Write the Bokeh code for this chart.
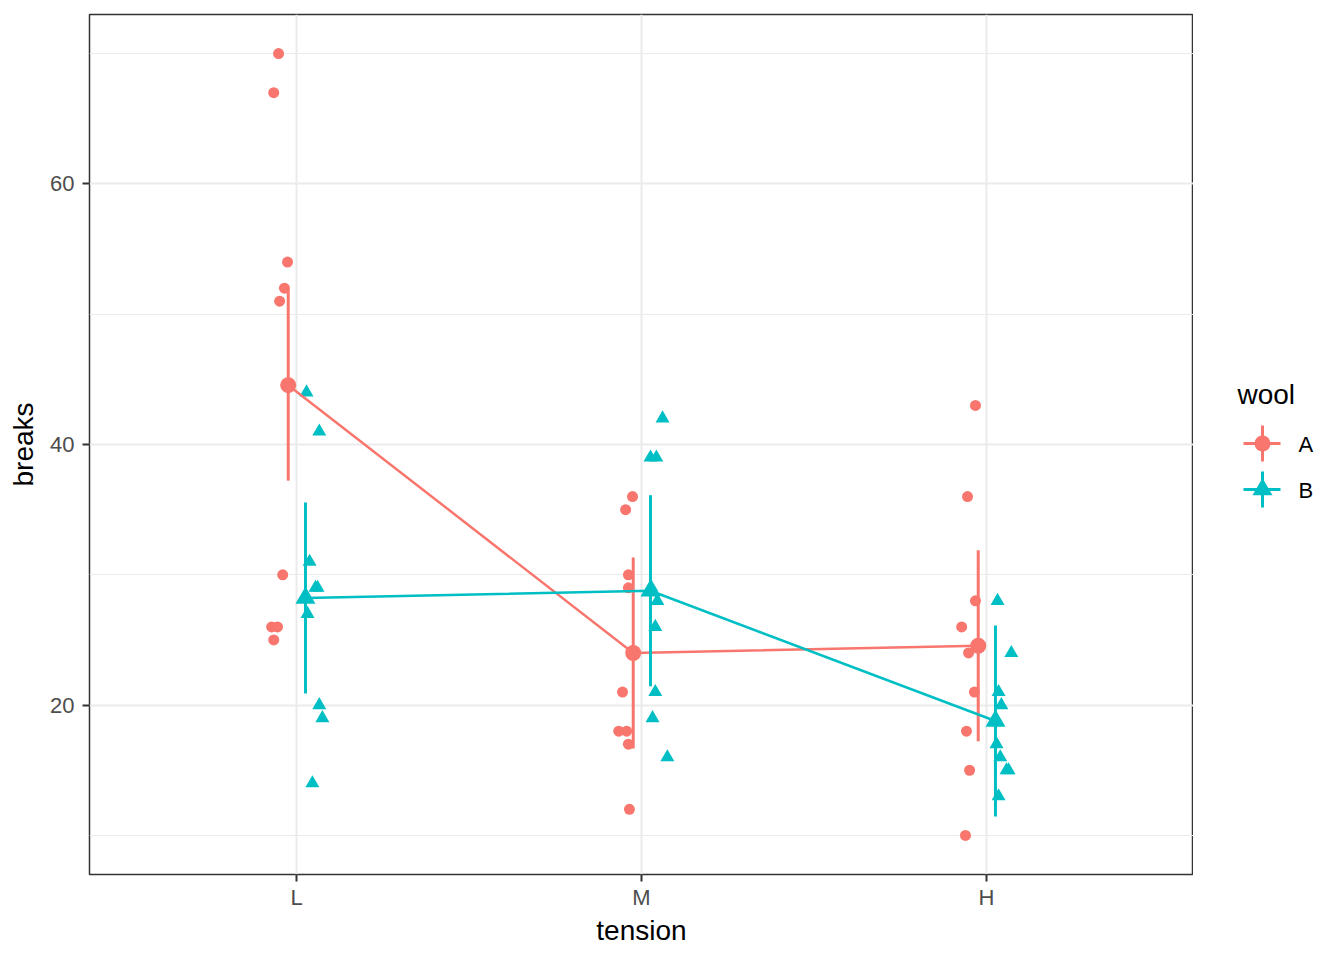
import numpy as np
from bokeh.plotting import figure
from bokeh.models import Range1d, FixedTicker
from bokeh.layouts import row
from bokeh.core.properties import value
from bokeh.embed import file_html
from bokeh.resources import INLINE

# ---------------- data (warpbreaks) ----------------
tension_levels = ["L", "M", "H"]
tension_pos = [1, 2, 3]
wools = ["A", "B"]

breaks_A = {
    "L": [26, 30, 54, 25, 70, 52, 51, 26, 67],
    "M": [18, 21, 29, 17, 12, 18, 35, 30, 36],
    "H": [36, 21, 24, 18, 10, 43, 28, 15, 26],
}
breaks_B = {
    "L": [27, 14, 29, 19, 29, 31, 41, 20, 44],
    "M": [42, 26, 19, 16, 39, 28, 21, 39, 29],
    "H": [20, 21, 24, 17, 13, 15, 15, 16, 28],
}
jitter_A = {
    "L": [-0.072, -0.040, -0.026, -0.066, -0.052, -0.035, -0.049, -0.055, -0.066],
    "M": [-0.066, -0.055, -0.038, -0.038, -0.035, -0.043, -0.046, -0.038, -0.026],
    "H": [-0.055, -0.035, -0.052, -0.058, -0.061, -0.032, -0.032, -0.049, -0.072],
}
jitter_B = {
    "L": [0.032, 0.046, 0.055, 0.075, 0.061, 0.038, 0.066, 0.066, 0.029],
    "M": [0.061, 0.040, 0.032, 0.075, 0.026, 0.046, 0.040, 0.043, 0.029],
    "H": [0.043, 0.035, 0.072, 0.029, 0.035, 0.064, 0.058, 0.040, 0.032],
}
dodge = {"A": -0.024, "B": 0.026}
t_crit = 2.0106  # t(0.975, df=48)

colors = {"A": "#F8766D", "B": "#00BFC4"}
markers = {"A": "circle", "B": "triangle"}
data = {"A": breaks_A, "B": breaks_B}
jit = {"A": jitter_A, "B": jitter_B}

# pooled residual standard error for the CI
resid_ss = 0.0
n_total = 0
for w in wools:
    for t in tension_levels:
        v = np.array(data[w][t], dtype=float)
        resid_ss += ((v - v.mean()) ** 2).sum()
        n_total += len(v)
df_resid = n_total - len(wools) * len(tension_levels)
mse = resid_ss / df_resid

FONT = "Liberation Sans"
FT, FB, FL = 14, 86, 89   # frame top / bottom border / left border
FW, FH = 1104, 860

p = figure(
    frame_width=FW, frame_height=FH,
    x_range=Range1d(0.4, 3.6), y_range=Range1d(7.0, 73.0),
    output_backend="svg", toolbar_location=None,
    min_border_left=FL, min_border_right=0, min_border_top=FT, min_border_bottom=FB,
    background_fill_color="white", border_fill_color="white",
)
p.outline_line_color = "#333333"
p.outline_line_width = 1.5

# axes
p.xaxis.ticker = FixedTicker(ticks=tension_pos, minor_ticks=[])
p.xaxis.major_label_overrides = {k: v for k, v in zip(tension_pos, tension_levels)}
p.yaxis.ticker = FixedTicker(ticks=[20, 40, 60], minor_ticks=[10, 30, 50, 70])
p.xaxis.axis_label = "tension"
p.yaxis.axis_label = "breaks"
for ax in (p.xaxis, p.yaxis):
    ax.axis_line_color = None
    ax.major_tick_line_color = "#333333"
    ax.major_tick_line_width = 2
    ax.major_tick_out = 7
    ax.major_tick_in = 0
    ax.minor_tick_line_color = None
    ax.major_label_text_font = FONT
    ax.major_label_text_font_size = "22px"
    ax.major_label_text_color = "#4D4D4D"
    ax.axis_label_text_font = FONT
    ax.axis_label_text_font_size = "28px"
    ax.axis_label_text_font_style = "normal"
    ax.axis_label_text_color = "black"
p.xaxis.major_label_standoff = 3
p.yaxis.major_label_standoff = 8
p.xaxis.axis_label_standoff = 2
p.yaxis.axis_label_standoff = 8

p.xgrid.grid_line_color = "#EBEBEB"
p.xgrid.grid_line_width = 2
p.ygrid.grid_line_color = "#EBEBEB"
p.ygrid.grid_line_width = 2
p.ygrid.minor_grid_line_color = "#EBEBEB"
p.ygrid.minor_grid_line_width = 1

# jittered observations
for w in wools:
    xs, ys = [], []
    for pos, t in zip(tension_pos, tension_levels):
        xs += [pos + j for j in jit[w][t]]
        ys += data[w][t]
    p.scatter(xs, ys, marker=markers[w], size=11 if w == "A" else 14,
              fill_color=colors[w], line_color=None)

# summaries: mean line, CI bars, mean points
for w in wools:
    mx, my, lo, hi = [], [], [], []
    for pos, t in zip(tension_pos, tension_levels):
        v = np.array(data[w][t], dtype=float)
        m = v.mean()
        half = t_crit * np.sqrt(mse / len(v))
        mx.append(pos + dodge[w])
        my.append(m)
        lo.append(m - half)
        hi.append(m + half)
    p.line(mx, my, line_color=colors[w], line_width=2.5)
    p.segment(x0=mx, y0=lo, x1=mx, y1=hi, line_color=colors[w], line_width=3)
    p.scatter(mx, my, marker=markers[w], size=16 if w == "A" else 20,
              fill_color=colors[w], line_color=None)

# ---------------- manual legend panel (screen-pixel coordinates) ----------------
x_left = FL + FW
lw = 1344 - x_left
leg = figure(width=lw, height=FT + FH + FB,
             x_range=Range1d(x_left, x_left + lw), y_range=Range1d(FT + FH, FT),
             output_backend="svg", toolbar_location=None,
             min_border=0, min_border_left=0, min_border_right=0,
             min_border_top=FT, min_border_bottom=FB,
             background_fill_color="white", border_fill_color="white")
leg.outline_line_color = None
leg.axis.visible = False
leg.grid.visible = False

leg.text(x=[1237], y=[394], text=["wool"], text_font=value(FONT),
         text_font_size="28px", text_baseline="middle", text_align="left",
         text_color="black")
item_y = {"A": 443, "B": 489}
for w in wools:
    yc = item_y[w]
    leg.segment(x0=[1243], y0=[yc], x1=[1280], y1=[yc], line_color=colors[w], line_width=3)
    leg.segment(x0=[1262], y0=[yc - 18], x1=[1262], y1=[yc + 18], line_color=colors[w], line_width=3)
    leg.scatter([1262], [yc], marker=markers[w], size=16 if w == "A" else 20,
                fill_color=colors[w], line_color=None)
    leg.text(x=[1298], y=[yc + 1], text=[w], text_font=value(FONT), text_font_size="22px",
             text_baseline="middle", text_align="left", text_color="black")

layout = row(p, leg)
open("out.html", "w").write(file_html(layout, INLINE))
